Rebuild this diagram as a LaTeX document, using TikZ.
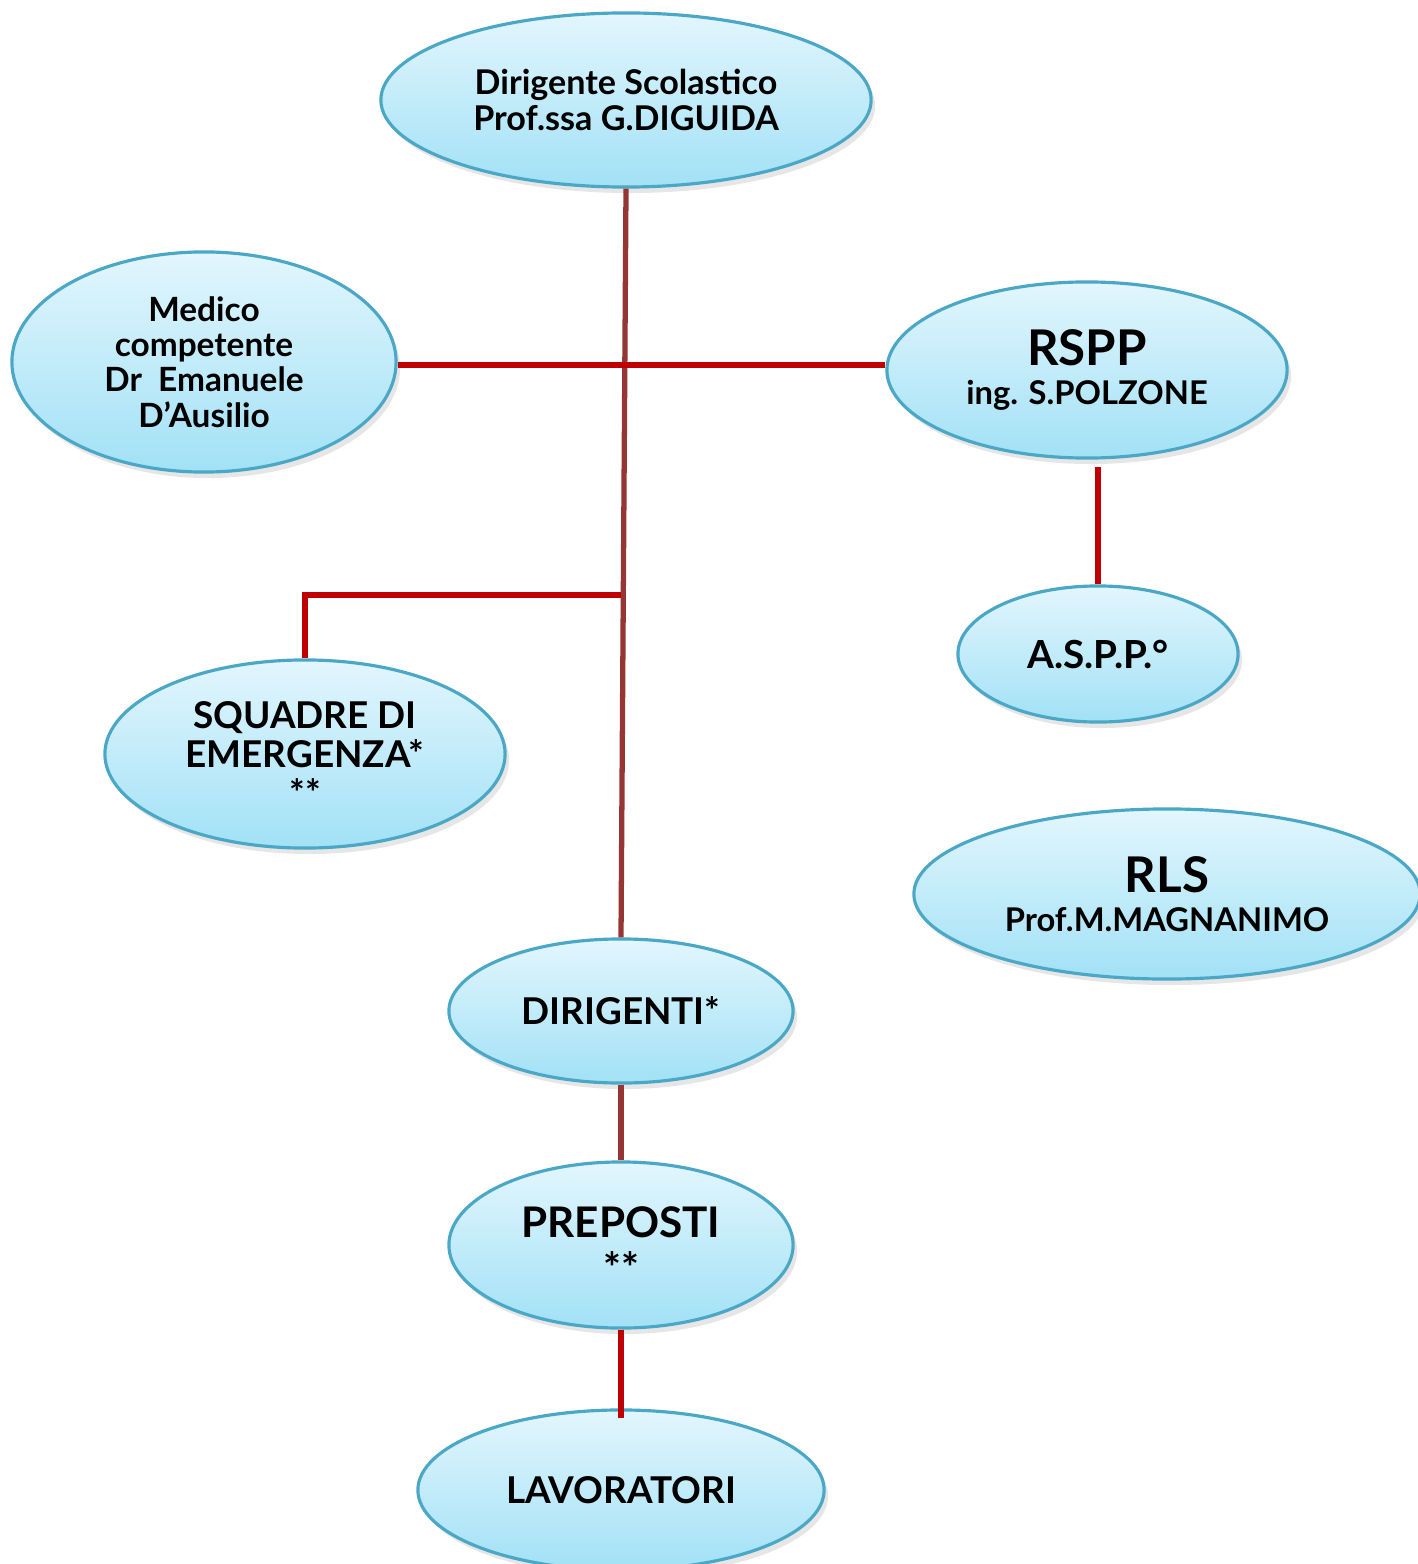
\documentclass[tikz,border=0pt]{standalone}
\usepackage{fontspec}
\setmainfont{Lato}
\usetikzlibrary{shapes.geometric, shadows}
\definecolor{bubbleline}{HTML}{4BA7C6}
\definecolor{bubbletop}{HTML}{E2F6FD}
\definecolor{bubblebot}{HTML}{A2E1F6}
\definecolor{linkred}{HTML}{C00000}
\definecolor{linkbrown}{HTML}{963634}
\tikzset{bubble/.style={ellipse, draw=bubbleline, line width=0.9pt, top color=bubbletop, bottom color=bubblebot, align=center, font=\bfseries, inner sep=0pt, drop shadow={opacity=0.2, shadow xshift=0.4mm, shadow yshift=-0.6mm}}}
\tikzset{redlink/.style={draw=linkred, line width=1.5pt}}
\tikzset{brownlink/.style={draw=linkbrown, line width=1.5pt}}

\begin{document}
\begin{tikzpicture}[x=0.01cm, y=-0.01cm]
    \useasboundingbox (0,0) rectangle (1417,1564);
    % ellipses
    \node[bubble, minimum width=4.9cm, minimum height=1.74cm, font=\bfseries\fontsize{9.7}{10.2}\selectfont] (ds) at (626,100) {Dirigente Scolastico\\Prof.ssa G.DIGUIDA};
    \node[bubble, minimum width=3.84cm, minimum height=2.2cm, font=\bfseries\fontsize{9.5}{10}\selectfont] (medico) at (204,362) {Medico\\competente\\Dr\ \ Emanuele\\D’Ausilio};
    \node[bubble, minimum width=4cm, minimum height=1.76cm, font=\bfseries\fontsize{9.3}{11}\selectfont] (rspp) at (1087,370) {{\fontsize{14}{15}\selectfont RSPP}\\ing. S.POLZONE};
    \node[bubble, minimum width=2.8cm, minimum height=1.36cm, font=\bfseries\fontsize{11}{13}\selectfont] (aspp) at (1098,654) {A.S.P.P.°};
    \node[bubble, minimum width=4cm, minimum height=1.88cm, font=\bfseries\fontsize{10.5}{11}\selectfont] (squadre) at (305,754) {SQUADRE DI\\EMERGENZA*\\**};
    \node[bubble, minimum width=5.06cm, minimum height=1.7cm, font=\bfseries\fontsize{9.3}{11}\selectfont] (rls) at (1167,894) {{\fontsize{14}{15}\selectfont RLS}\\Prof.M.MAGNANIMO};
    \node[bubble, minimum width=3.44cm, minimum height=1.44cm, font=\bfseries\fontsize{10.5}{13}\selectfont] (dirigenti) at (621,1011) {DIRIGENTI*};
    \node[bubble, minimum width=3.44cm, minimum height=1.66cm, font=\bfseries\fontsize{12}{13}\selectfont] (preposti) at (621,1245) {PREPOSTI\\**};
    \node[bubble, minimum width=4.06cm, minimum height=1.6cm, font=\bfseries\fontsize{10.5}{13}\selectfont] (lavoratori) at (621,1490) {LAVORATORI};
    % links
    \coordinate (fork) at (621,595);
    \coordinate (asppend) at (1098,467);
    \draw[brownlink] (ds.south) -- (dirigenti.north);
    \draw[redlink] ([yshift=-0.03cm]medico.east) -- ([yshift=-0.03cm]medico.east -| rspp.west);
    \draw[redlink] (fork) -| (squadre.north);
    \draw[redlink] (asppend) -- (aspp.north);
    \draw[brownlink] (dirigenti.south) -- (preposti.north);
    \draw[redlink] (preposti.south) -- ([yshift=-0.1cm]lavoratori.north);
\end{tikzpicture}
\end{document}
